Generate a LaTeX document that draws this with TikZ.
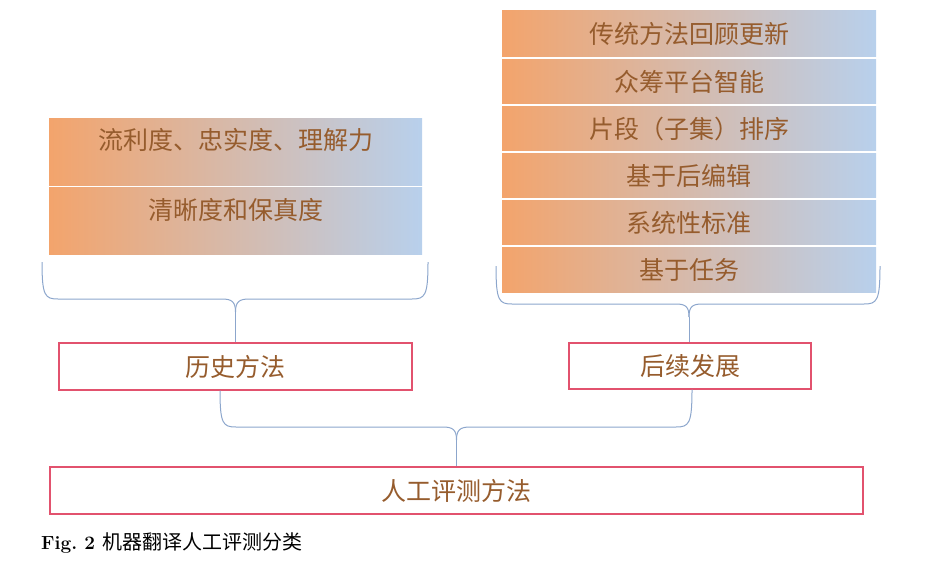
\documentclass[tikz,border=0pt]{standalone}
\usepackage{fontspec}
\newfontfamily\cjk{Noto Sans CJK SC}
\definecolor{cellL}{RGB}{243,164,108}
\definecolor{cellR}{RGB}{184,208,236}
\definecolor{celltxt}{RGB}{150,92,45}
\definecolor{boxred}{RGB}{226,82,110}
\definecolor{bracec}{RGB}{140,166,204}
\tikzset{
  cell/.style={inner sep=0pt, left color=cellL, right color=cellR, draw=none},
  celltext/.style={inner sep=0pt, font=\cjk\fontsize{25}{28}\selectfont, text=celltxt},
  redbox/.style={draw=boxred, line width=1.2pt, fill=white, inner sep=0pt,
    font=\cjk\fontsize{25}{28}\selectfont, text=celltxt},
  bracel/.style={draw=bracec, line width=1pt}
}
\begin{document}
\begin{tikzpicture}[x=1pt,y=-1pt]
\useasboundingbox (0,0) rectangle (947,570);
% left cells
\node[cell, minimum width=373pt, minimum height=67pt] (l1) at (235.5,152) {};
\node[cell, minimum width=373pt, minimum height=67pt] (l2) at (235.5,221) {};
\node[celltext] (l1t) at (235.5,140) {流利度、忠实度、理解力};
\node[celltext] (l2t) at (235.5,210) {清晰度和保真度};
% right cells
\node[cell, minimum width=374pt, minimum height=46pt] (r1) at (689,33.5) {};
\node[cell, minimum width=374pt, minimum height=44pt] (r2) at (689,81.5) {};
\node[cell, minimum width=374pt, minimum height=44pt] (r3) at (689,128.5) {};
\node[cell, minimum width=374pt, minimum height=44pt] (r4) at (689,175.5) {};
\node[cell, minimum width=374pt, minimum height=44pt] (r5) at (689,222.5) {};
\node[cell, minimum width=374pt, minimum height=45pt] (r6) at (689,270) {};
\node[celltext] at (r1) {传统方法回顾更新};
\node[celltext] at (r2) {众筹平台智能};
\node[celltext] at (r3) {片段（子集）排序};
\node[celltext] at (r4) {基于后编辑};
\node[celltext] at (r5) {系统性标准};
\node[celltext] at (r6) {基于任务};
% red boxes
\node[redbox, minimum width=353pt, minimum height=47pt] (hist) at (235.5,366.5) {历史方法};
\node[redbox, minimum width=242pt, minimum height=46pt] (dev) at (690,366) {后续发展};
\node[redbox, minimum width=813pt, minimum height=47pt] (all) at (456.5,490.5) {人工评测方法};
% brace coordinates
\coordinate (la) at (42,262);
\coordinate (lb) at (428,262);
\coordinate (lc) at (235.5,312);
\coordinate (ra) at (496,266);
\coordinate (rb) at (880,266);
\coordinate (rc) at (689,317);
\coordinate (bc) at (456.5,440);
% left brace
\draw[bracel] (la) .. controls (42,296) and (45,299) .. (58,299) -- (222,299)
  .. controls (232,299) and (235.5,302) .. (lc);
\draw[bracel] (lb) .. controls (428,296) and (425,299) .. (412,299) -- (249,299)
  .. controls (239,299) and (235.5,302) .. (lc);
\draw[bracel] (lc) -- (lc |- hist.north);
% right brace
\draw[bracel] (ra) .. controls (496,301) and (499,304) .. (512,304) -- (676,304)
  .. controls (686,304) and (689,307) .. (rc);
\draw[bracel] (rb) .. controls (880,301) and (877,304) .. (864,304) -- (702,304)
  .. controls (692,304) and (689,307) .. (rc);
\draw[bracel] (rc) -- (rc |- dev.north);
% bottom brace
\draw[bracel] (hist.south -| 220,0) .. controls (220,424) and (223,427) .. (236,427) -- (443,427)
  .. controls (453,427) and (456.5,430) .. (bc);
\draw[bracel] (dev.south -| 692,0) .. controls (692,424) and (689,427) .. (676,427) -- (470,427)
  .. controls (460,427) and (456.5,430) .. (bc);
\draw[bracel] (bc) -- (all.north);
% caption
\node[anchor=west, inner sep=0pt] (cap) at (41,543) {\fontsize{19}{22}\selectfont\textbf{Fig.\ 2}\hspace{7pt}{\cjk\fontsize{20}{22}\selectfont 机器翻译人工评测分类}};
\end{tikzpicture}
\end{document}
